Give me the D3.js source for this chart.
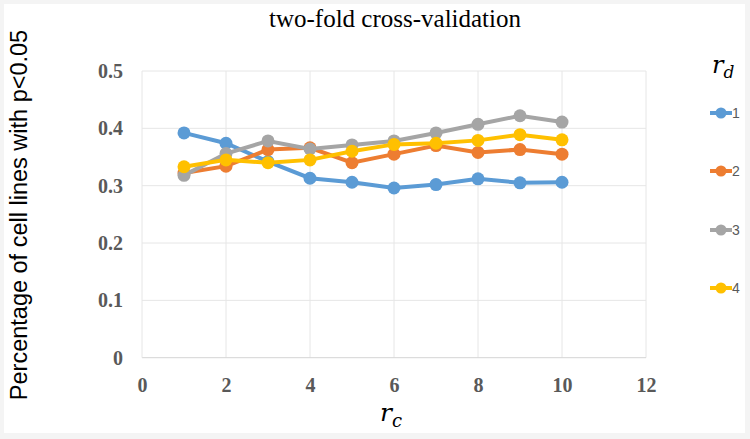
<!DOCTYPE html>
<html><head><meta charset="utf-8">
<script src="https://cdn.jsdelivr.net/npm/d3@7"></script>
<style>body{margin:0;background:#fff}svg{display:block}</style>
</head><body>
<script>
const xValues = [1,2,3,4,5,6,7,8,9,10];
const seriesNames = ["1","2","3","4"];
const rd1 = [0.392,0.374,0.342,0.313,0.306,0.296,0.302,0.312,0.305,0.306];
const rd2 = [0.322,0.334,0.363,0.366,0.340,0.355,0.370,0.358,0.363,0.355];
const rd3 = [0.318,0.356,0.378,0.364,0.371,0.378,0.392,0.407,0.422,0.411];
const rd4 = [0.333,0.345,0.340,0.345,0.360,0.372,0.374,0.379,0.389,0.380];
const xTicks = [0,2,4,6,8,10,12];
const yTicks = [0,0.1,0.2,0.3,0.4,0.5];
const colors = ["#5b9bd5","#ed7d31","#a5a5a5","#ffc000"];

const W=750,H=439;
const svg=d3.select("body").append("svg").attr("width",W).attr("height",H);
svg.append("rect").attr("width",W).attr("height",H).attr("fill","#f4f4f4");
svg.append("rect").attr("x",4).attr("y",4).attr("width",W-9).attr("height",H-10).attr("fill","#fff");

const x=d3.scaleLinear().domain([0,12]).range([142,646]);
const y=d3.scaleLinear().domain([0,0.5]).range([357.7,71]);

svg.append("g").selectAll("line").data(yTicks.slice(1)).join("line")
 .attr("x1",x(0)).attr("x2",x(12)).attr("y1",d=>y(d)).attr("y2",d=>y(d))
 .attr("stroke","#e6e6e6").attr("stroke-width",1);
svg.append("g").selectAll("line").data(xTicks.slice(1)).join("line")
 .attr("x1",d=>x(d)).attr("x2",d=>x(d)).attr("y1",y(0)).attr("y2",y(0.5))
 .attr("stroke","#e6e6e6").attr("stroke-width",1);
svg.append("line").attr("x1",x(0)).attr("x2",x(12)).attr("y1",y(0)).attr("y2",y(0)).attr("stroke","#d4d4d4");
svg.append("line").attr("x1",x(0)).attr("x2",x(0)).attr("y1",y(0)).attr("y2",y(0.5)).attr("stroke","#e6e6e6");

const yAxis=d3.axisLeft(y).tickValues(yTicks).tickSize(0).tickPadding(19).tickFormat(d=>d===0?"0":d3.format(".1f")(d));
const gy=svg.append("g").attr("transform",`translate(${x(0)},0)`).call(yAxis);
gy.select(".domain").remove();
gy.selectAll("text").attr("font-family","Liberation Serif").attr("font-weight","bold").attr("font-size",20).attr("fill","#595959");
const xAxis=d3.axisBottom(x).tickValues(xTicks).tickSize(0).tickPadding(20);
const gx=svg.append("g").attr("transform",`translate(0,${y(0)})`).call(xAxis);
gx.select(".domain").remove();
gx.selectAll("text").attr("font-family","Liberation Serif").attr("font-weight","bold").attr("font-size",20).attr("fill","#595959");

const data=[rd1,rd2,rd3,rd4];
const line=d3.line().x((d,i)=>x(xValues[i])).y(d=>y(d));
data.forEach((s,k)=>{
  const g=svg.append("g");
  g.append("path").attr("d",line(s)).attr("fill","none").attr("stroke",colors[k]).attr("stroke-width",4);
  g.selectAll("circle").data(s).join("circle").attr("cx",(d,i)=>x(xValues[i])).attr("cy",d=>y(d)).attr("r",6.5).attr("fill",colors[k]);
});

svg.append("text").attr("x",395).attr("y",27).attr("text-anchor","middle")
 .attr("font-family","Liberation Serif").attr("font-size",25).attr("fill","#000").text("two-fold cross-validation");
svg.append("text").attr("transform","translate(27,215) rotate(-90)").attr("text-anchor","middle")
 .attr("font-family","Liberation Sans").attr("font-size",23.5).attr("fill","#000").text("Percentage of cell lines with p<0.05");
const xt=svg.append("text").attr("x",380).attr("y",421)
 .attr("font-family","DejaVu Serif").attr("font-style","italic").attr("font-size",25).attr("fill","#000");
xt.append("tspan").text("r");
xt.append("tspan").attr("font-size",18).attr("dy",6).text("c");

const lt=svg.append("text").attr("x",712).attr("y",73)
 .attr("font-family","DejaVu Serif").attr("font-style","italic").attr("font-size",24).attr("fill","#000");
lt.append("tspan").text("r");
lt.append("tspan").attr("font-size",17).attr("dy",5).text("d");

const legY=[113,171,230,288];
seriesNames.forEach((n,k)=>{
  const g=svg.append("g");
  g.append("line").attr("x1",710).attr("x2",732).attr("y1",legY[k]).attr("y2",legY[k]).attr("stroke",colors[k]).attr("stroke-width",4);
  g.append("circle").attr("cx",721).attr("cy",legY[k]).attr("r",5.5).attr("fill",colors[k]);
  g.append("text").attr("x",732).attr("y",legY[k]+5).attr("font-family","Liberation Sans").attr("font-size",14).attr("fill","#595959").text(n);
});
</script>
</body></html>
